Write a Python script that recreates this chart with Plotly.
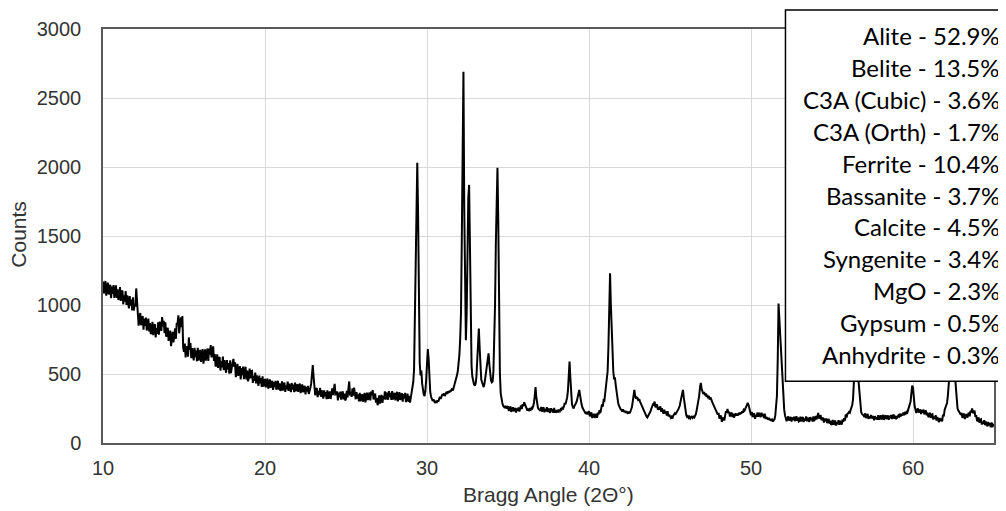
import plotly.graph_objects as go

# Scan settings (2-theta start and step, degrees)
two_theta_start = 10.0
two_theta_step = 0.05

counts = [
    1170,1083,1141,1174,1067,1125,1163,1076,1104,1147,1050,1133,1081,1144,1052,1110,1143,1051,1114,1037,  # 10
    1055,1130,1030,1095,1105,1005,1070,1025,1100,1000,1070,1020,975,1065,995,1040,960,1055,960,1000,  # 11
    990,1120,1030,950,850,906,942,853,879,920,821,902,848,909,815,871,902,808,869,790,  # 12
    800,878,781,849,862,765,833,791,875,785,880,845,812,913,845,885,795,875,770,805,  # 13
    835,740,790,815,702,758,805,730,775,830,755,870,860,925,795,845,910,840,920,690,  # 14
    660,720,620,690,700,625,765,675,725,615,687,640,598,690,622,670,592,690,597,640,  # 15
    675,588,646,680,575,636,678,597,633,685,595,685,640,710,620,675,700,595,645,555,  # 16
    565,642,544,611,623,525,592,549,626,528,600,552,509,601,533,580,502,599,506,548,  # 17
    580,610,551,584,477,535,573,486,514,557,460,543,491,554,462,520,553,461,524,447,  # 18
    471,540,469,520,522,436,487,450,511,432,489,450,415,488,433,470,407,484,409,442,  # 19
    464,403,444,467,393,434,461,400,420,451,384,442,406,451,386,427,451,387,432,378,  # 20
    391,446,379,428,437,371,418,389,445,378,430,397,369,435,388,423,369,438,375,406,  # 21
    427,371,409,431,361,400,425,368,387,415,352,407,373,414,355,393,400,430,510,565,  # 22
    480,410,346,389,397,333,377,349,399,335,382,350,322,382,338,369,318,381,320,348,  # 23
    374,319,363,396,347,402,428,352,355,374,309,365,331,373,314,353,375,316,357,308,  # 24
    320,378,331,396,446,344,370,334,396,344,401,358,317,369,322,352,301,364,303,332,  # 25
    354,299,339,363,295,337,365,311,334,366,309,372,345,384,316,345,358,292,328,275,  # 26
    290,345,286,334,348,290,340,318,374,315,367,339,314,376,333,364,313,376,315,343,  # 27
    364,309,348,371,302,342,368,312,332,361,299,355,322,364,296,335,358,299,341,292,  # 28
    330,355,390,440,530,900,1500,1900,2030,1650,950,580,490,525,430,380,350,340,380,460,  # 29
    570,680,610,450,370,335,320,305,315,295,290,305,290,310,300,320,335,320,345,355,  # 30
    345,360,340,355,370,355,375,365,380,370,385,395,380,400,420,435,460,490,520,570,  # 31
    640,760,950,1500,2150,2690,1700,1000,745,950,1400,1780,1870,1350,800,560,480,440,425,415,  # 32
    430,480,580,720,830,690,520,460,440,420,405,430,470,520,580,620,650,570,490,455,  # 33
    440,445,520,700,1000,1450,1850,1995,1600,900,500,360,310,290,270,265,255,270,250,260,  # 34
    266,232,254,265,226,247,259,229,238,254,220,251,234,258,228,253,271,246,282,266,  # 35
    295,280,258,245,235,250,232,245,240,255,250,265,290,340,405,330,275,255,245,235,  # 36
    234,262,227,252,257,222,246,231,260,224,251,234,219,252,229,246,218,254,220,236,  # 37
    228,240,222,236,230,245,240,255,250,265,290,280,300,330,380,470,590,470,340,280,  # 38
    262,250,268,275,290,305,330,360,385,345,300,275,255,240,228,222,212,225,208,218,  # 39
    230,193,213,222,181,201,212,182,193,212,183,219,207,238,216,251,279,264,310,306,  # 40
    360,400,440,520,700,1000,1230,1000,780,620,520,460,475,420,360,320,290,270,255,245,  # 41
    240,228,244,225,235,218,230,222,212,228,215,225,240,260,300,360,385,340,320,330,  # 42
    325,305,318,300,285,270,255,240,225,210,200,192,185,195,200,215,230,250,265,280,  # 43
    277,300,259,279,280,240,260,241,266,227,251,230,212,242,215,229,198,230,193,206,  # 44
    195,182,190,178,198,205,215,210,225,232,240,255,270,300,340,370,385,330,270,230,  # 45
    205,190,195,182,190,178,188,195,182,190,185,198,210,240,270,300,340,400,435,395,  # 46
    380,355,370,345,360,335,350,325,340,315,330,305,300,285,270,255,240,228,215,205,  # 47
    218,177,193,198,154,172,185,163,188,229,220,246,215,228,192,211,222,188,212,184,  # 48
    205,215,198,210,200,218,205,222,212,230,220,240,235,250,265,280,290,275,250,230,  # 49
    201,226,188,209,210,176,203,191,222,189,219,203,188,220,195,210,180,212,175,188,  # 50
    178,170,182,165,175,160,168,155,165,172,200,250,340,600,1010,900,780,740,600,450,  # 51
    320,240,200,185,157,179,192,163,173,189,155,186,168,191,159,181,194,161,185,156,  # 52
    161,190,155,181,187,152,177,163,192,157,185,168,154,188,165,183,156,192,159,176,  # 53
    196,171,203,218,177,194,201,166,172,184,148,177,157,178,144,164,175,140,162,131,  # 54
    139,167,131,156,161,126,150,136,166,132,161,146,134,171,153,179,162,208,185,212,  # 55
    215,225,220,240,255,275,320,440,560,680,640,560,500,440,330,260,225,210,205,200,  # 56
    187,215,180,206,211,175,193,178,204,178,196,184,165,195,172,187,168,202,170,186,  # 57
    201,169,192,204,167,188,202,174,186,200,168,198,180,203,174,192,207,175,198,172,  # 58
    195,188,200,192,205,198,210,200,215,208,218,212,225,220,240,250,265,300,360,415,  # 59
    400,320,268,245,217,238,250,220,229,244,209,239,220,242,208,227,237,200,220,187,  # 60
    194,220,182,205,208,170,192,175,201,163,188,168,151,182,157,177,156,205,192,239,  # 61
    260,275,290,340,410,470,560,660,720,700,620,530,440,370,300,250,235,222,215,205,  # 62
    218,182,203,213,174,196,210,184,198,220,193,233,223,250,216,231,234,189,202,163,  # 63
    161,186,147,169,172,134,156,139,166,129,155,136,120,152,127,143,114,149,115,131,  # 64
    125,  # 65
]
assert len(counts) == 1101, len(counts)

two_theta = [round(two_theta_start + two_theta_step * i, 2) for i in range(len(counts))]

x_ticks = [10, 20, 30, 40, 50, 60]
y_ticks = [0, 500, 1000, 1500, 2000, 2500, 3000]

phases = ["Alite", "Belite", "C3A (Cubic)", "C3A (Orth)", "Ferrite", "Bassanite",
          "Calcite", "Syngenite", "MgO", "Gypsum", "Anhydrite"]
percents = ["52.9%", "13.5%", "3.6%", "1.7%", "10.4%", "3.7%",
            "4.5%", "3.4%", "2.3%", "0.5%", "0.3%"]

# The page body has an 8px margin, so the figure is drawn 8px in from the window corner.
OFF = 8
SCREEN_W, SCREEN_H = 1006, 511
W, H = SCREEN_W - OFF, SCREEN_H - OFF
L, R, T, B = 103, 996, 28, 443   # plot-area edges in window pixels


def px_x(p):
    return (p - L) / (R - L)


def px_y(p):
    return (B - p) / (B - T)


fig = go.Figure()
fig.add_trace(go.Scatter(x=two_theta, y=counts, mode="lines",
                         line=dict(color="black", width=2), hoverinfo="x+y",
                         showlegend=False))

axis_font = dict(family="Liberation Sans, Arial, sans-serif", size=20, color="#333333")
title_font = dict(family="Liberation Sans, Arial, sans-serif", size=21, color="#333333")

fig.update_layout(
    width=W, height=H,
    margin=dict(l=L - OFF, r=W - (R - OFF), t=T - OFF, b=H - (B - OFF), pad=0),
    paper_bgcolor="white", plot_bgcolor="white",
    showlegend=False,
    xaxis=dict(range=[10, 65], tickvals=x_ticks, ticktext=[str(v) for v in x_ticks],
               showgrid=True, gridcolor="#d9d9d9", gridwidth=1,
               showline=True, linecolor="#595959", linewidth=1.5, mirror=True,
               ticks="", zeroline=False, tickfont=axis_font, ticklabelstandoff=6),
    yaxis=dict(range=[0, 3000], tickvals=y_ticks, ticktext=[str(v) for v in y_ticks],
               showgrid=True, gridcolor="#d9d9d9", gridwidth=1,
               showline=True, linecolor="#595959", linewidth=1.5, mirror=True,
               ticks="", zeroline=False, tickfont=axis_font, ticklabelstandoff=16),
)

annotations = [
    dict(text="Counts", x=px_x(18), y=px_y(234), xref="paper", yref="paper",
         textangle=-90, showarrow=False, xanchor="center", yanchor="middle",
         font=title_font),
    dict(text="Bragg Angle (2Θ°)", x=px_x(549.5), y=px_y(495), xref="paper", yref="paper",
         showarrow=False, xanchor="center", yanchor="middle", font=title_font),
]

# Phase box
fig.add_shape(type="rect", xref="paper", yref="paper",
              x0=px_x(787), x1=px_x(1003), y0=px_y(381), y1=px_y(9),
              fillcolor="white", line=dict(color="black", width=1.5), layer="above")

for i, (name, pct) in enumerate(zip(phases, percents)):
    annotations.append(dict(
        text=f"{name} - {pct}", x=px_x(1004), y=px_y(35 + 31.9 * i),
        xref="paper", yref="paper", showarrow=False, xanchor="right", yanchor="middle",
        font=dict(family="Lato, Carlito, Calibri, sans-serif", size=24, color="black")))

fig.update_layout(annotations=annotations)
fig.write_html("out.html")
